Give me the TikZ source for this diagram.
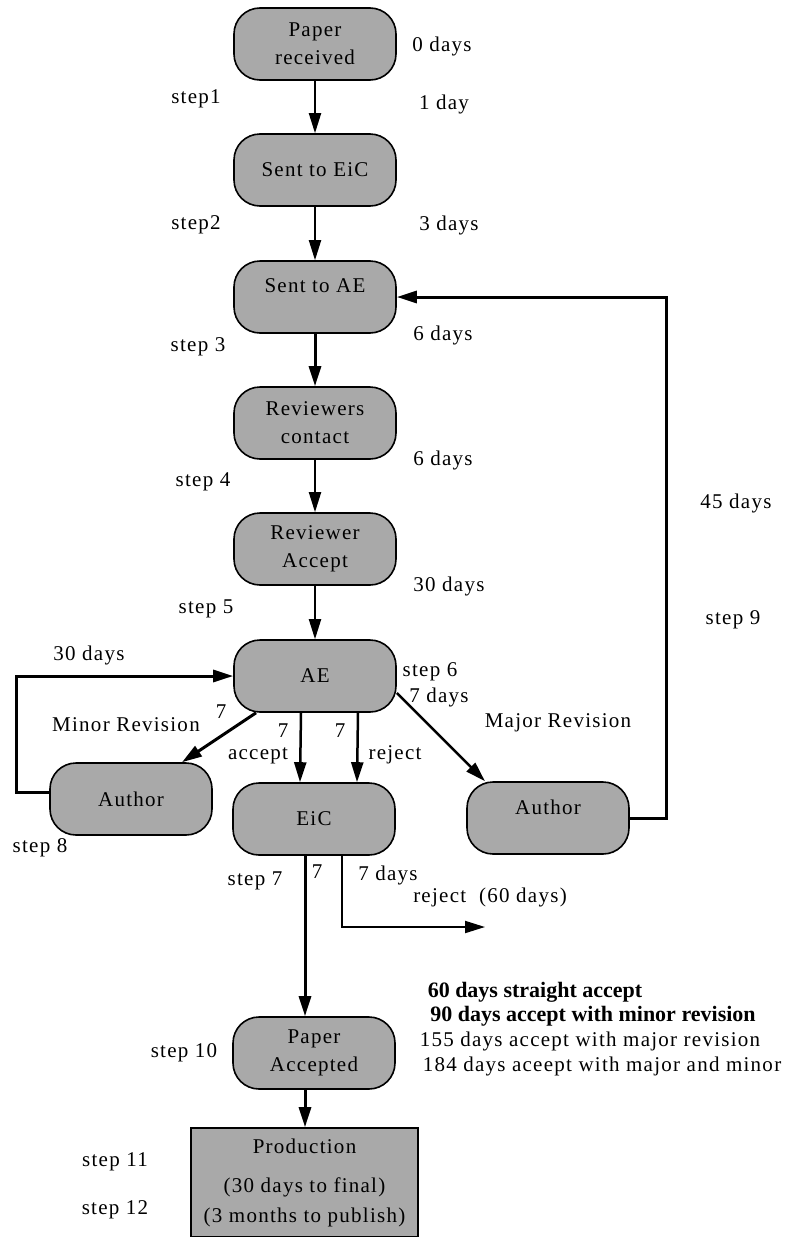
\documentclass[tikz,border=0pt]{standalone}
\usepackage{fontspec}
\setmainfont[LetterSpace=6]{Liberation Serif}
\newfontfamily\plainserif{Liberation Serif}
\usepackage{tikz}
\usetikzlibrary{arrows.meta, positioning, calc}
\definecolor{boxgray}{HTML}{A9A9A9}

\begin{document}
\begin{tikzpicture}[x=1pt,y=-1pt,
	every node/.append style={font=\fontsize{21}{28}\selectfont},
	stage/.style={draw=black,line width=1.6pt,fill=boxgray,rounded corners=26pt,
		minimum width=162pt,minimum height=72pt,align=center,inner sep=2pt},
	flow/.style={-{Triangle[length=20pt,width=12pt]},line width=2pt},
	thickflow/.style={flow,line width=3pt}]

\useasboundingbox (0,0) rectangle (787,1237);

% x of the main column
\pgfmathsetmacro{\colx}{315}

% main column of stages
\node[stage] (recv) at (\colx,44) {Paper\\received};
\node[stage] (toeic) at (\colx,170) {Sent to EiC};
\node[stage,text depth=22pt] (toae) at (\colx,297) {Sent to AE};
\node[stage] (revcon) at (\colx,423) {Reviewers\\contact};
\node[stage] (revacc) at (\colx,549) {Reviewer\\Accept};
\node[stage] (ae) at (\colx,676) {AE};
\node[stage] (eic) at (314,819) {EiC};
\node[stage] (paperacc) at (314,1053) {Paper\\Accepted};
\node[draw=black,line width=1.6pt,fill=boxgray,minimum width=227pt,minimum height=109pt,
	align=center,inner sep=2pt,font=\fontsize{21}{30}\selectfont] (prod) at (304.5,1182.5)
	{Production\\[9pt](30 days to final)\\(3 months to publish)};

% the two author boxes
\node[stage] (authmin) at (131,799) {Author};
\node[stage,text depth=22pt] (authmaj) at (548,818) {Author};

% labels on the left
\node (s1) at (196,99) {step1};
\node (s2) at (196,225) {step2};
\node (s3) at (198,347) {step 3};
\node (s4) at (203,482) {step 4};
\node (s5) at (206,609) {step 5};
\node (s7) at (255,881) {step 7};
\node (s8) at (40,848) {step 8};
\node (s10) at (184,1053) {step 10};
\node (s11) at (115,1162) {step 11};
\node (s12) at (115,1210) {step 12};

% labels on the right
\node (d0) at (442,46) {0 days};
\node (d1) at (444,104) {1 day};
\node (d3) at (449,225) {3 days};
\node (d6a) at (443,335) {6 days};
\node (d6b) at (443,460) {6 days};
\node (d30) at (449,586) {30 days};
\node (d45) at (736,503) {45 days};
\node (s9) at (733,620) {step 9};
\node (s6) at (430,672) {step 6};
\node (d7) at (439,697) {7 days};
\node (major) at (558,723) {Major Revision};

% labels round the AE decision
\node (dmin) at (89,655) {30 days};
\node (minor) at (126,725) {Minor Revision};
\node (n7a) at (221,712) {7};
\node (n7b) at (283,731) {7};
\node (acc) at (258,756) {accept};
\node (n7c) at (340,731) {7};
\node (rej) at (395,755) {reject};
\node (n7d) at (317,872) {7};
\node (d7r) at (388,875) {7 days};
\node (rej60) at (490,897) {reject~~(60 days)};

% totals
\node[font=\plainserif\bfseries\fontsize{22}{26}\selectfont] (t60) at (535,992) {60 days straight accept};
\node[font=\plainserif\bfseries\fontsize{22}{26}\selectfont] (t90) at (593,1016) {90 days accept with minor revision};
\node (t155) at (590,1041) {155 days accept with major revision};
\node (t184) at (602,1066) {184 days aceept with major and minor};

% connectors down the main column
\draw[flow] (recv) -- (toeic);
\draw[flow] (toeic) -- (toae);
\draw[thickflow] (toae) -- (revcon);
\draw[flow] (revcon) -- (revacc);
\draw[flow] (revacc) -- (ae);

% AE decisions
\draw[thickflow] ([xshift=-59]ae.south) -- ([xshift=51]authmin.north);
\draw[flow,line width=2.5pt] ([xshift=-14]ae.south) -- ([xshift=-14]eic.north);
\draw[flow,line width=2.5pt] ([xshift=43]ae.south) -- ([xshift=43]eic.north);
\draw[flow,line width=2.5pt] ([yshift=-17]ae.east) -- ([xshift=-63]authmaj.north);

% revision loops
\draw[thickflow] (authmaj.east) -- ++(37,0) |- (toae.east);
\draw[thickflow] ([yshift=7]authmin.west) -- ++(-33,0) |- (ae.west);

% EiC outcomes
\coordinate (rejend) at (485,927);
\draw[flow] ([xshift=28]eic.south) |- (rejend);
\draw[thickflow] ([xshift=-9]eic.south) -- ([xshift=-9]paperacc.north);
\draw[thickflow] ([xshift=-9]paperacc.south) -- ([xshift=-9]paperacc.south |- prod.north);

\end{tikzpicture}
\end{document}
